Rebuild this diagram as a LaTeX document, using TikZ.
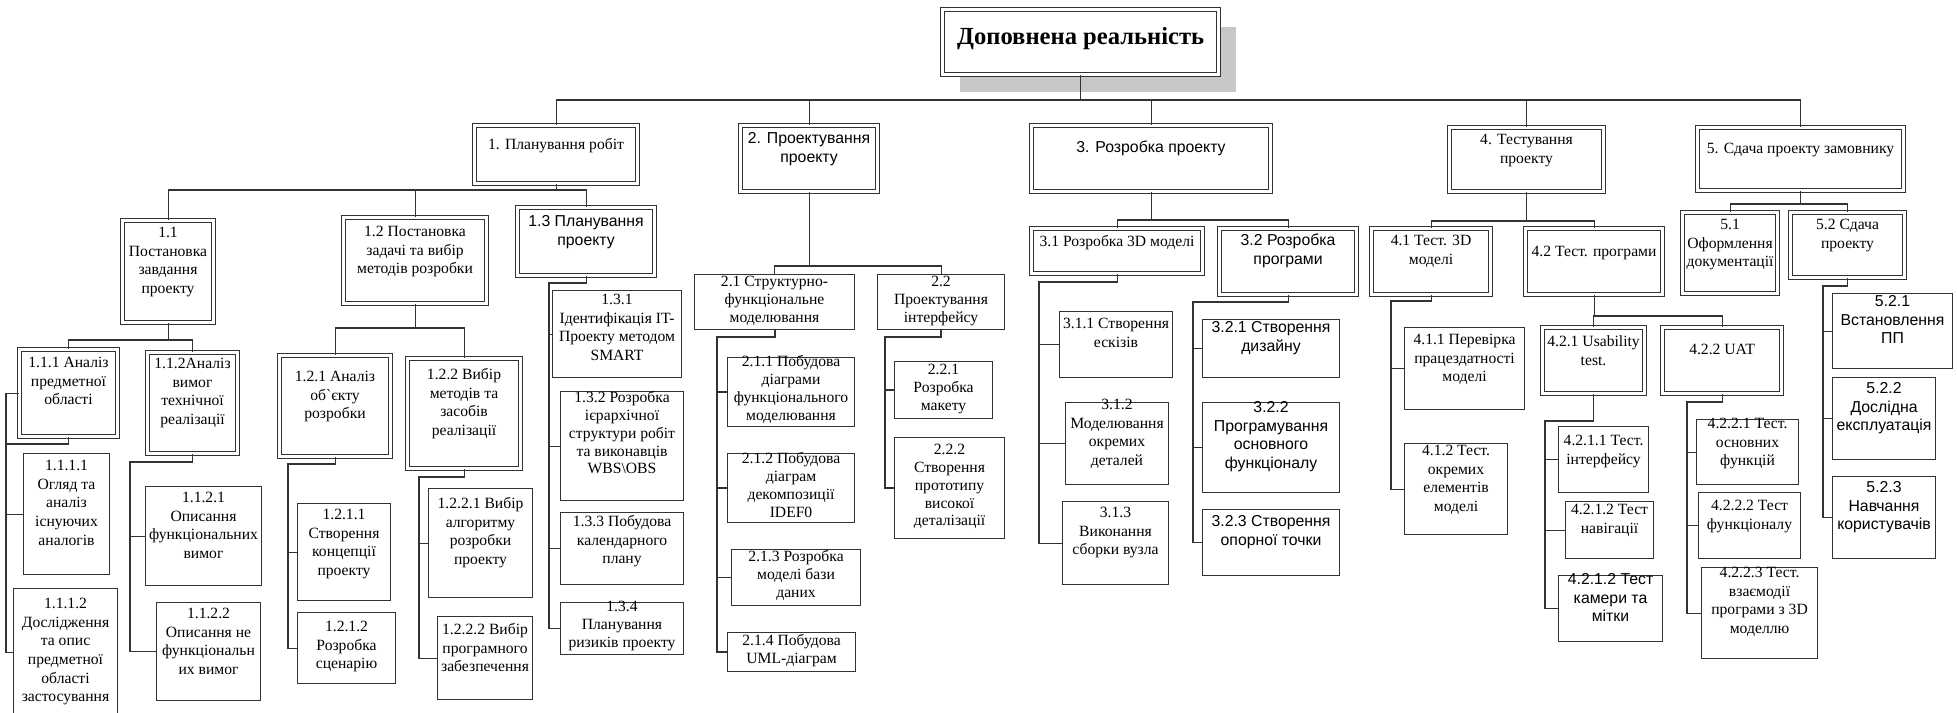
\documentclass[tikz,border=0pt]{standalone}
\usepackage{fontspec}
\setmainfont{Liberation Serif}
\setsansfont{Liberation Sans}
\usepackage{tikz}
\usetikzlibrary{shadows}
\newlength\pxu
\setlength\pxu{0.02cm}
% box text: [top offset]{width}{height}{text}, all in pixels of the reference
\newcommand\cell[4][4]{\parbox[t][#3\pxu][t]{#2\pxu}{\vspace*{#1\pxu}\makebox[#2\pxu][c]{\parbox[t]{\dimexpr#2\pxu+16\pxu\relax}{\centering\strut #4}}}}
\tikzset{
    task/.style={rectangle, draw=black!80, line width=0.6pt, fill=white, inner sep=0pt, anchor=north west, font=\fontsize{8.9}{10.6}\selectfont},
    tasksf/.style={task, font=\fontsize{9}{10.6}\selectfont\sffamily},
    tightfont/.style={font=\fontsize{8.9}{10.1}\selectfont},
    phase/.style={task, double, double distance=1.3pt},
    phasesf/.style={phase, font=\fontsize{9}{10.6}\selectfont\sffamily},
    titlebox/.style={task, double, line width=0.7pt, double distance=1.5pt, font=\fontsize{14}{17}\selectfont, drop shadow={shadow xshift=17\pxu, shadow yshift=-17\pxu, fill=black!22, opacity=1}},
    link/.style={draw=black!80, line width=0.6pt},
    spine/.style={link, line width=1.1pt}
}
\begin{document}
\begin{tikzpicture}[x=0.02cm, y=-0.02cm]
    \fill[white] (0,0) rectangle (1957,713);
    \useasboundingbox (0,0) rectangle (1957,713);

    % Root
    \node[titlebox] (root) at (942,9) {\cell[14]{276}{65}{\textbf{Доповнена реальність}}};

    % Phases
    \node[phase] (p1) at (474,125) {\cell[11]{163}{58}{1. Планування робіт}};
    \node[phasesf] (p2) at (740,125) {\cell[5]{137}{66}{2. Проектування\\проекту}};
    \node[phasesf] (p3) at (1031,125) {\cell[14]{239}{66}{3. Розробка проекту}};
    \node[phase] (p4) at (1449,127) {\cell[4]{154}{64}{4. Тестування\\проекту}};
    \node[phase] (p5) at (1697,127) {\cell[13]{206}{63}{5. Сдача проекту замовнику}};

    % 1. Planning
    \node[phase] (n11) at (122,220) {\cell{91}{102}{1.1\\Постановка\\завдання\\проекту}};
    \node[phase] (n12) at (343,217) {\cell[6]{143}{86}{1.2 Постановка\\задачі та вибір\\методів розробки}};
    \node[phasesf] (n13) at (517,207) {\cell[6]{137}{68}{1.3 Планування\\проекту}};
    \node[phase] (n111) at (19,349) {\cell[5]{98}{87}{1.1.1 Аналіз\\предметної\\області}};
    \node[phase] (n112) at (147,352) {\cell[3]{90}{101}{1.1.2Аналіз\\вимог\\технічної\\реалізації}};
    \node[task] (n1111) at (23,453) {\cell{86}{121}{1.1.1.1\\Огляд та\\аналіз\\існуючих\\аналогів}};
    \node[task] (n1112) at (13,588) {\cell[7]{104}{128}{1.1.1.2\\Дослідження\\та опис\\предметної\\області\\застосування}};
    \node[task] (n1121) at (145,486) {\cell[3]{116}{99}{1.1.2.1\\Описання\\функціональних\\вимог}};
    \node[task] (n1122) at (156,602) {\cell[3]{104}{98}{1.1.2.2\\Описання не\\функціональн\\их вимог}};
    \node[phase] (n121) at (279,355) {\cell[13]{111}{101}{1.2.1 Аналіз\\об\textasciigrave єкту\\розробки}};
    \node[phase] (n122) at (407,358) {\cell[8]{113}{110}{1.2.2 Вибір\\методів та\\засобів\\реалізації}};
    \node[task] (n1211) at (297,503) {\cell[3]{93}{97}{1.2.1.1\\Створення\\концепції\\проекту}};
    \node[task] (n1212) at (297,612) {\cell[6]{98}{71}{1.2.1.2\\Розробка\\сценарію}};
    \node[task] (n1221) at (428,488) {\cell[7]{104}{109}{1.2.2.1 Вибір\\алгоритму\\розробки\\проекту}};
    \node[task] (n1222) at (437,616) {\cell[5]{95}{83}{1.2.2.2 Вибір\\програмного\\забезпечення}};
    \node[task] (n131) at (552,290) {\cell[1]{129}{87}{1.3.1\\Ідентифікація IT-\\Проекту методом\\SMART}};
    \node[task, tightfont] (n132) at (560,391) {\cell[-1]{123}{109}{1.3.2 Розробка\\ієрархічної\\структури робіт\\та виконавців\\WBS\textbackslash OBS}};
    \node[task] (n133) at (560,512) {\cell[1]{123}{72}{1.3.3 Побудова\\календарного\\плану}};
    \node[task, tightfont] (n134) at (560,602) {\cell[-3]{123}{52}{1.3.4\\Планування\\ризиків проекту}};

    % 2. Design
    \node[task, tightfont] (n21) at (694,274) {\cell[0]{160}{55}{2.1 Структурно-\\функціональне\\моделювання}};
    \node[task, tightfont] (n22) at (877,274) {\cell[0]{127}{55}{2.2\\Проектування\\інтерфейсу}};
    \node[task, tightfont] (n211) at (727,357) {\cell[-3]{127}{69}{2.1.1 Побудова\\діаграми\\функціонального\\моделювання}};
    \node[task, tightfont] (n212) at (727,453) {\cell[-2]{127}{69}{2.1.2 Побудова\\діаграм\\декомпозиції\\IDEF0}};
    \node[task, tightfont] (n213) at (731,549) {\cell[0]{129}{56}{2.1.3 Розробка\\моделі бази\\даних}};
    \node[task, tightfont] (n214) at (727,632) {\cell[1]{128}{39}{2.1.4 Побудова\\UML-діаграм}};
    \node[task, tightfont] (n221) at (894,361) {\cell[1]{98}{57}{2.2.1\\Розробка\\макету}};
    \node[task, tightfont] (n222) at (894,437) {\cell[5]{110}{101}{2.2.2\\Створення\\прототипу\\високої\\деталізації}};

    % 3. Development
    \node[phase] (n31) at (1031,228) {\cell[5]{171}{45}{3.1 Розробка 3D моделі}};
    \node[phasesf] (n32) at (1219,228) {\cell{137}{66}{3.2 Розробка\\програми}};
    \node[task] (n311) at (1059,311) {\cell{113}{66}{3.1.1 Створення\\ескізів}};
    \node[task] (n312) at (1065,402) {\cell[-6]{103}{82}{3.1.2\\Моделювання\\окремих\\деталей}};
    \node[task] (n313) at (1062,501) {\cell[3]{106}{83}{3.1.3\\Виконання\\сборки вузла}};
    \node[tasksf] (n321) at (1202,319) {\cell[0]{137}{58}{3.2.1 Створення\\дизайну}};
    \node[tasksf] (n322) at (1202,402) {\cell[-3]{137}{90}{3.2.2\\Програмування\\основного\\функціоналу}};
    \node[tasksf] (n323) at (1202,509) {\cell{137}{66}{3.2.3 Створення\\опорної точки}};

    % 4. Testing
    \node[phase] (n41) at (1371,228) {\cell{119}{66}{4.1 Тест. 3D\\моделі}};
    \node[phase] (n42) at (1525,228) {\cell[15]{137}{66}{4.2 Тест. програми}};
    \node[task] (n411) at (1404,327) {\cell{120}{82}{4.1.1 Перевірка\\працездатності\\моделі}};
    \node[task] (n412) at (1404,443) {\cell[-1]{103}{91}{4.1.2 Тест.\\окремих\\елементів\\моделі}};
    \node[phase] (n421) at (1542,327) {\cell[6]{102}{66}{4.2.1 Usability\\test.}};
    \node[phase] (n422) at (1662,327) {\cell[14]{119}{66}{4.2.2 UAT}};
    \node[task] (n4211) at (1558,426) {\cell[6]{90}{66}{4.2.1.1 Тест.\\інтерфейсу}};
    \node[task] (n4212) at (1565,501) {\cell[0]{88}{57}{4.2.1.2 Тест\\навігації}};
    \node[tasksf] (n4213) at (1558,575) {\cell[-4]{104}{66}{4.2.1.2 Тест\\камери та\\мітки}};
    \node[task] (n4221) at (1696,419) {\cell[-4]{102}{65}{4.2.2.1 Тест.\\основних\\функцій}};
    \node[task] (n4222) at (1698,492) {\cell[5]{102}{66}{4.2.2.2 Тест\\функціоналу}};
    \node[task] (n4223) at (1701,567) {\cell[-3]{116}{91}{4.2.2.3 Тест.\\взаємодії\\програми з 3D\\моделлю}};

    % 5. Handover
    \node[phase] (n51) at (1682,212) {\cell{95}{81}{5.1\\Оформлення\\документації}};
    \node[phase] (n52) at (1790,212) {\cell{114}{65}{5.2 Сдача\\проекту}};
    \node[tasksf] (n521) at (1832,293) {\cell[0]{120}{75}{5.2.1\\Встановлення\\ПП}};
    \node[tasksf] (n522) at (1832,377) {\cell[3]{103}{82}{5.2.2\\Дослідна\\експлуатація}};
    \node[tasksf] (n523) at (1832,476) {\cell[3]{103}{82}{5.2.3\\Навчання\\користувачів}};

    % Buses and spines
    \coordinate (bus0) at (0,100);
    \coordinate (bus1) at (0,190);
    \coordinate (bus2) at (0,266);
    \coordinate (bus3) at (0,220);
    \coordinate (bus4) at (0,221);
    \coordinate (bus5) at (0,204);
    \coordinate (bus11) at (0,340);
    \coordinate (bus12) at (0,328);
    \coordinate (bus42) at (0,316);
    \coordinate (s111) at (6,444);
    \coordinate (s112) at (130,462);
    \coordinate (s121) at (288,464);
    \coordinate (s122) at (419,477);
    \coordinate (s13) at (549,283);
    \coordinate (s21) at (717,337);
    \coordinate (s22) at (885,337);
    \coordinate (s31) at (1039,282);
    \coordinate (s32) at (1193,302);
    \coordinate (s41) at (1391,301);
    \coordinate (s421) at (1545,421);
    \coordinate (s422) at (1687,402);
    \coordinate (s52) at (1823,286);

    % Root to phases
    \draw[link] (root.south) |- (bus0 -| p1.north) -- (p1.north);
    \draw[link] (root.south) |- (bus0 -| p2.north) -- (p2.north);
    \draw[link] (root.south) |- (bus0 -| p3.north) -- (p3.north);
    \draw[link] (root.south) |- (bus0 -| p4.north) -- (p4.north);
    \draw[link] (root.south) |- (bus0 -| p5.north) -- (p5.north);

    % Phases to groups
    \draw[link] (p1.south) |- (bus1 -| n11.north) -- (n11.north);
    \draw[link] (p1.south) |- (bus1 -| n12.north) -- (n12.north);
    \draw[link] (p1.south) |- (bus1 -| n13.north) -- (n13.north);
    \draw[link] (p2.south) |- (bus2 -| n21.north) -- (n21.north);
    \draw[link] (p2.south) |- (bus2 -| n22.north) -- (n22.north);
    \draw[link] (p3.south) |- (bus3 -| n31.north) -- (n31.north);
    \draw[link] (p3.south) |- (bus3 -| n32.north) -- (n32.north);
    \draw[link] (p4.south) |- (bus4 -| n41.north) -- (n41.north);
    \draw[link] (p4.south) |- (bus4 -| n42.north) -- (n42.north);
    \draw[link] (p5.south) |- (bus5 -| n51.north) -- (n51.north);
    \draw[link] (p5.south) |- (bus5 -| n52.north) -- (n52.north);
    \draw[link] (n11.south) |- (bus11 -| n111.north) -- (n111.north);
    \draw[link] (n11.south) |- (bus11 -| n112.north) -- (n112.north);
    \draw[link] (n12.south) |- (bus12 -| n121.north) -- (n121.north);
    \draw[link] (n12.south) |- (bus12 -| n122.north) -- (n122.north);
    \draw[link] (n42.south) |- (bus42 -| n421.north) -- (n421.north);
    \draw[link] (n42.south) |- (bus42 -| n422.north) -- (n422.north);

    % Groups to tasks
    \draw[link] (n111.west) -| (s111);
    \draw[link] (n111.south) |- (s111) |- (n1112.west);
    \draw[link] (s111) |- (n1111.west);
    \draw[link] (n112.south) |- (s112) |- (n1122.west);
    \draw[link] (s112) |- (n1121.west);
    \draw[link] (n121.south) |- (s121) |- (n1212.west);
    \draw[link] (s121) |- (n1211.west);
    \draw[link] (n122.south) |- (s122) |- (n1222.west);
    \draw[link] (s122) |- (n1221.west);
    \draw[link] (n13.south) |- (s13) |- (n134.west);
    \draw[link] (s13) |- (n131.west);
    \draw[link] (s13) |- (n132.west);
    \draw[link] (s13) |- (n133.west);
    \draw[spine] (n21.south) |- (s21) |- (n214.west);
    \draw[spine] (s21) |- (n211.west);
    \draw[spine] (s21) |- (n212.west);
    \draw[spine] (s21) |- (n213.west);
    \draw[spine] (n22.south) |- (s22) |- (n222.west);
    \draw[spine] (s22) |- (n221.west);
    \draw[link] (n31.south) |- (s31) |- (n313.west);
    \draw[link] (s31) |- (n311.west);
    \draw[link] (s31) |- (n312.west);
    \draw[link] (n32.south) |- (s32) |- (n323.west);
    \draw[link] (s32) |- (n321.west);
    \draw[link] (s32) |- (n322.west);
    \draw[link] (n41.south) |- (s41) |- (n412.west);
    \draw[link] (s41) |- (n411.west);
    \draw[link] (n421.south) |- (s421) |- (n4213.west);
    \draw[link] (s421) |- (n4211.west);
    \draw[link] (s421) |- (n4212.west);
    \draw[link] (n422.south) |- (s422) |- (n4223.west);
    \draw[link] (s422) |- (n4221.west);
    \draw[link] (s422) |- (n4222.west);
    \draw[link] (n52.south) |- (s52) |- (n523.west);
    \draw[link] (s52) |- (n521.west);
    \draw[link] (s52) |- (n522.west);
\end{tikzpicture}
\end{document}
